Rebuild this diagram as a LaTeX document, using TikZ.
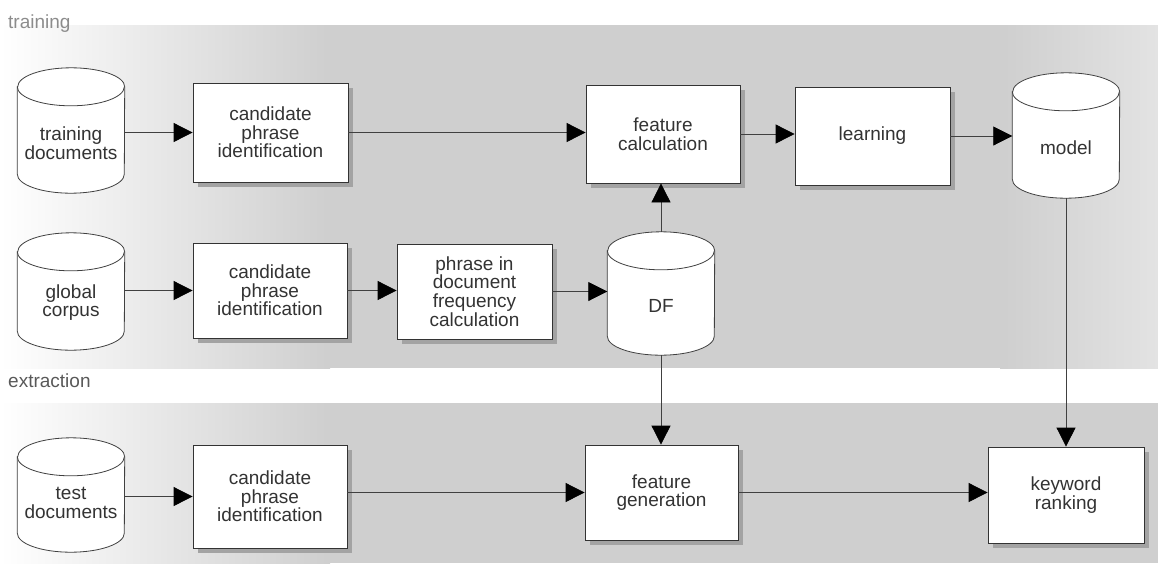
\documentclass[tikz,border=0pt]{standalone}
\usepackage{fontspec}
\setmainfont{Liberation Sans}
\usetikzlibrary{arrows.meta,calc,shadows}
\newcommand\dfont{\fontsize{19}{18.6}\selectfont}
\newcommand\drawcyl[1]{%
  \path[cyl] ($(#1.north west)+(0,-19)$) -- ($(#1.south west)+(0,19)$)
    arc[start angle=180,end angle=360,x radius=53.5pt,y radius=19pt]
    -- ($(#1.north east)+(0,-19)$)
    arc[start angle=0,end angle=180,x radius=53.5pt,y radius=19pt] -- cycle;
  \draw[cyl,fill=none] ($(#1.north west)+(0,-19)$)
    arc[start angle=180,end angle=360,x radius=53.5pt,y radius=19pt];
}
\begin{document}
\begin{tikzpicture}[x=1pt,y=1pt,
  box/.style={draw=black!80, fill=white, line width=0.8pt, minimum width=155pt,
    minimum height=98pt, align=center, inner sep=0pt, font=\dfont, text=black!80,
    drop shadow={shadow xshift=5pt,shadow yshift=-5pt,fill=black!36,opacity=1}},
  cylbody/.style={minimum width=107pt, inner sep=0pt, draw=none, fill=none},
  lbl/.style={align=center, font=\dfont, text=black!80, inner sep=0pt},
  sect/.style={font=\dfont, anchor=west, inner sep=0pt},
  arr/.style={draw=black!75, line width=0.8pt,
    -{Triangle[length=19pt,width=19pt,color=black]}},
  cyl/.style={draw=black!75, fill=white, line width=0.8pt}]
\useasboundingbox (0,0) rectangle (1158,-563);
% background bands
\shade[left color=white, right color=black!19] (0,-25) rectangle (330,-368);
\fill[black!19] (330,-25) rectangle (1000,-368);
\shade[left color=black!19, right color=black!11] (1000,-25) rectangle (1158,-368);
\shade[left color=white, right color=black!19] (0,-403) rectangle (330,-563);
\fill[black!19] (330,-403) rectangle (1158,-563);
% section labels
\node[sect, text=black!45] (lt) at (8,-24) {training};
\node[sect, text=black!65] (le) at (8,-381) {extraction};
% cylinders
\node[cylbody, minimum height=125pt] (td) at (71,-130.5) {};
\node[cylbody, minimum height=117pt] (gc) at (71,-291.5) {};
\node[cylbody, minimum height=114pt] (tst) at (71,-495) {};
\node[cylbody, minimum height=123pt] (df) at (661,-293.5) {};
\node[cylbody, minimum height=125pt] (md) at (1066,-135.5) {};
\drawcyl{td}
\drawcyl{gc}
\drawcyl{tst}
\drawcyl{df}
\drawcyl{md}
\node[lbl] (tdt) at ($(td.center)+(0,-13)$) {training\\documents};
\node[lbl] (gct) at ($(gc.center)+(0,-11)$) {global\\corpus};
\node[lbl] (tstt) at ($(tst.center)+(0,-8)$) {test\\documents};
\node[lbl] (dft) at ($(df.center)+(0,-12)$) {DF};
\node[lbl] (mdt) at ($(md.center)+(0,-12)$) {model};
% boxes
\node[box, minimum height=99pt] (c1) at (270.5,-132.5) {candidate\\phrase\\identification};
\node[box, minimum width=154pt] (fc) at (663,-134) {feature\\calculation};
\node[box] (ln) at (872.5,-136) {learning};
\node[box, minimum width=154pt, minimum height=95pt] (c2) at (270,-290.5) {candidate\\phrase\\identification};
\node[box, minimum height=95pt] (ph) at (474.5,-291.5) {phrase in\\document\\frequency\\calculation};
\node[box, minimum width=154pt, minimum height=103pt] (c3) at (270,-496.5) {candidate\\phrase\\identification};
\node[box, minimum width=153pt, minimum height=95pt] (fg) at (661.5,-492.5) {feature\\generation};
\node[box, minimum width=156pt, minimum height=96pt] (kr) at (1066,-495) {keyword\\ranking};
% connectors
\draw[arr] (td.east |- c1.west) -- (c1.west);
\draw[arr] (c1.east) -- (c1.east -| fc.west);
\draw[arr] (fc.east) -- (fc.east -| ln.west);
\draw[arr] (ln.east) -- (ln.east -| md.west);
\draw[arr] (df.north) -- (df.north |- fc.south);
\draw[arr] (gc.east |- c2.west) -- (c2.west);
\draw[arr] (c2.east) -- (c2.east -| ph.west);
\draw[arr] (ph.east) -- (ph.east -| df.west);
\draw[arr] (df.south) -- (df.south |- fg.north);
\draw[arr] (md.south) -- (md.south |- kr.north);
\draw[arr] (tst.east |- c3.west) -- (c3.west);
\draw[arr] (c3.east |- fg.west) -- (fg.west);
\draw[arr] (fg.east) -- (fg.east -| kr.west);
\end{tikzpicture}
\end{document}
